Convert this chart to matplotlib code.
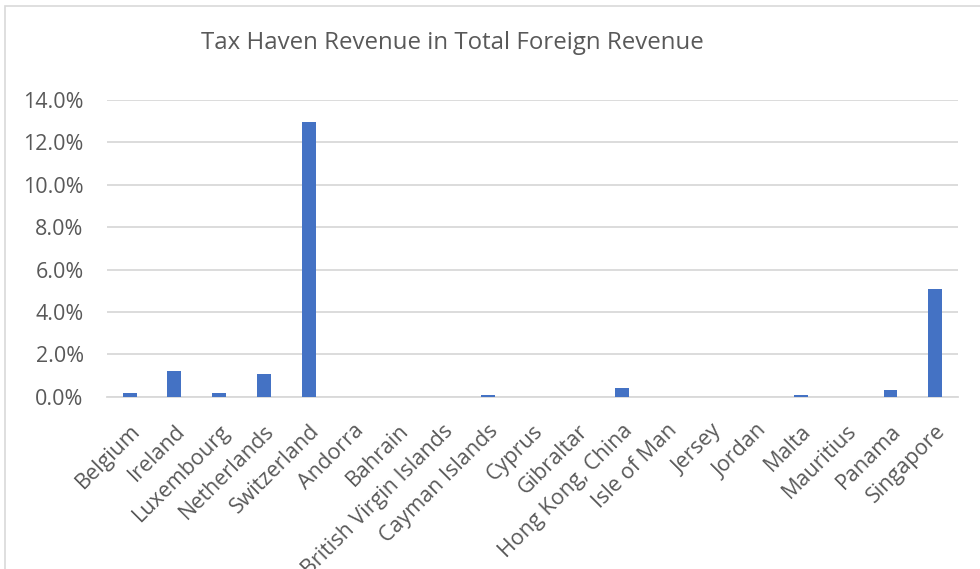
import matplotlib
matplotlib.use("Agg")
import matplotlib.pyplot as plt
from matplotlib.ticker import FuncFormatter, MultipleLocator
from matplotlib.patches import Rectangle

plt.rcParams['font.family'] = ['Open Sans', 'DejaVu Sans']

categories = ["Belgium", "Ireland", "Luxembourg", "Netherlands", "Switzerland",
              "Andorra", "Bahrain", "British Virgin Islands", "Cayman Islands",
              "Cyprus", "Gibraltar", "Hong Kong, China", "Isle of Man", "Jersey",
              "Jordan", "Malta", "Mauritius", "Panama", "Singapore"]
values = [0.0016, 0.0123, 0.0017, 0.0106, 0.1297,
          0.0, 0.0, 0.0, 0.0008,
          0.0, 0.0, 0.0040, 0.0, 0.0,
          0.0, 0.0007, 0.0, 0.0030, 0.0509]

W, H = 980, 569
fig = plt.figure(figsize=(W/100, H/100), dpi=100)
fig.patch.set_facecolor('white')

# chart-area border (light gray, left and top visible)
fig.add_artist(Rectangle((5/W, -0.1), 1.2, 1 - 6/H + 0.1, transform=fig.transFigure,
                         fill=False, edgecolor='#d9d9d9', linewidth=1.2))

left, right = 107.3/W, 957.6/W
bottom, top = 1 - 396.7/H, 1 - 100/H
ax = fig.add_axes([left, bottom, right-left, top-bottom])

x = range(len(categories))
ax.bar(x, values, width=0.31, color='#4472C4', zorder=3)
ax.set_xlim(-0.5, len(categories)-0.5)
ax.set_ylim(0, 0.14)
ax.yaxis.set_major_locator(MultipleLocator(0.02))
ax.yaxis.set_major_formatter(FuncFormatter(lambda v, p: f"{v*100:.1f}%"))
ax.grid(axis='y', color='#d9d9d9', linewidth=1.3, zorder=0)
for s in ['top', 'right', 'left']:
    ax.spines[s].set_visible(False)
ax.spines['bottom'].set_color('#d9d9d9')
ax.spines['bottom'].set_linewidth(1.3)

ax.set_xticks(list(x))
ax.set_xticklabels(categories, rotation=45, ha='right', va='top',
                   rotation_mode='anchor', fontsize=15.5, color='#595959')
ax.tick_params(axis='x', length=0, pad=17)
ax.tick_params(axis='y', length=0, pad=17, labelsize=15.5, labelcolor='#595959')

fig.text(452/W, 1 - 43/H, "Tax Haven Revenue in Total Foreign Revenue",
         ha='center', va='center', fontsize=17.3, color='#595959')

fig.savefig("out.png", dpi=100)
